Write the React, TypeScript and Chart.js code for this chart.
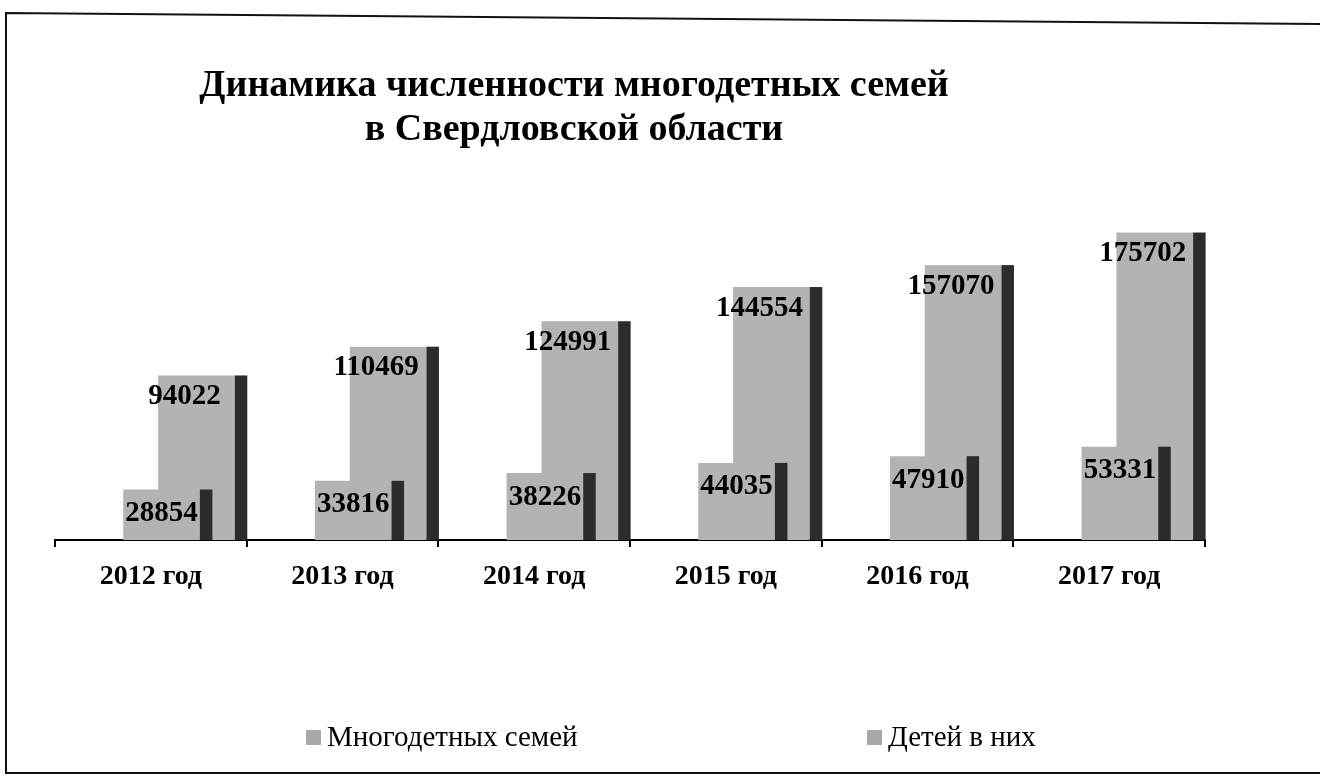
import { useEffect, useRef } from "react";
import { Chart, registerables } from "chart.js";

Chart.register(...registerables);

// ---------- data ----------
const years = ["2012 год", "2013 год", "2014 год", "2015 год", "2016 год", "2017 год"];
const families = [28854, 33816, 38226, 44035, 47910, 53331];
const children = [94022, 110469, 124991, 144554, 157070, 175702];
const seriesNames = ["Многодетных семей", "Детей в них"];
const titleLines = ["Динамика численности многодетных семей", "в Свердловской области"];

// ---------- style ----------
const SERIF = '"Liberation Serif", "Times New Roman", serif';
const FACE = "#b3b3b3";
const SIDE = "#2c2c2c";
const SIDE_W = 12.5;
// per dataset: shift of the face centre (fraction of category width) and label offsets (px)
const barStyle = [
  { shift: 0.056, labelDx: 0, labelDy: 24 },
  { shift: 0.238, labelDx: -12, labelDy: 21 },
];

const bar3dPlugin = {
  id: "bar3d",
  beforeDatasetDraw(chart: any, args: any) {
    const xs = chart.scales.x;
    const catW = xs.getPixelForValue(1) - xs.getPixelForValue(0);
    chart.ctx.save();
    chart.ctx.translate(barStyle[args.index].shift * catW, 0);
  },
  afterDatasetDraw(chart: any, args: any) {
    const ctx = chart.ctx;
    ctx.fillStyle = SIDE;
    args.meta.data.forEach((el: any) => {
      const { x, y, base, width } = el.getProps(["x", "y", "base", "width"], true);
      ctx.fillRect(x + width / 2, y, SIDE_W, base - y);
    });
    ctx.restore();
  },
  afterDatasetsDraw(chart: any) {
    const ctx = chart.ctx;
    const xs = chart.scales.x;
    const catW = xs.getPixelForValue(1) - xs.getPixelForValue(0);
    ctx.save();
    ctx.font = `bold 29px ${SERIF}`;
    ctx.fillStyle = "#000";
    ctx.textAlign = "center";
    ctx.textBaseline = "middle";
    chart.data.datasets.forEach((ds: any, di: number) => {
      const meta = chart.getDatasetMeta(di);
      const st = barStyle[di];
      meta.data.forEach((el: any, i: number) => {
        const { x, y } = el.getProps(["x", "y"], true);
        ctx.fillText(String(ds.data[i]), x + st.shift * catW + st.labelDx, y + st.labelDy);
      });
    });
    ctx.restore();
  },
};

const decorPlugin = {
  id: "decor",
  afterDraw(chart: any) {
    const ctx = chart.ctx;
    ctx.save();
    // frame
    ctx.strokeStyle = "#111";
    ctx.lineWidth = 2;
    ctx.beginPath();
    ctx.moveTo(1320, 24);
    ctx.lineTo(6, 13);
    ctx.lineTo(6, 773);
    ctx.lineTo(1320, 773);
    ctx.stroke();
    // title
    ctx.fillStyle = "#000";
    ctx.textAlign = "center";
    ctx.textBaseline = "alphabetic";
    ctx.font = `bold 38px ${SERIF}`;
    ctx.fillText(titleLines[0], 574, 96);
    ctx.fillText(titleLines[1], 574, 140);
    // legend
    const items = [
      { x: 306, label: seriesNames[0] },
      { x: 867, label: seriesNames[1] },
    ];
    ctx.font = `29px ${SERIF}`;
    ctx.textAlign = "left";
    ctx.textBaseline = "middle";
    items.forEach((it) => {
      ctx.fillStyle = "#a8a8a8";
      ctx.fillRect(it.x, 730, 15, 15);
      ctx.fillStyle = "#000";
      ctx.fillText(it.label, it.x + 21, 738);
    });
    ctx.restore();
  },
};

export default function App() {
  const ref = useRef<HTMLCanvasElement | null>(null);

  useEffect(() => {
    if (!ref.current) return;
    const chart = new Chart(ref.current, {
      type: "bar",
      data: {
        labels: years,
        datasets: [
          { label: seriesNames[0], data: families, backgroundColor: FACE, borderWidth: 0 },
          { label: seriesNames[1], data: children, backgroundColor: FACE, borderWidth: 0 },
        ],
      },
      options: {
        responsive: false,
        animation: false,
        layout: { padding: { left: 55, right: 115, top: 190, bottom: 177 } },
        datasets: { bar: { grouped: false, categoryPercentage: 1, barPercentage: 0.4, clip: false } as any },
        plugins: { legend: { display: false }, title: { display: false }, tooltip: { enabled: false } },
        scales: {
          x: {
            z: 1,
            offset: true,
            afterFit: (s: any) => { s.height = 60; },
            border: { display: true, color: "#000", width: 2 },
            grid: { display: true, offset: true, drawOnChartArea: false, drawTicks: true, tickLength: 7, color: "#000", lineWidth: 2 },
            ticks: { color: "#000", padding: 13, font: { family: SERIF, size: 28, weight: "bold" } },
          },
          y: { display: false, min: 0, max: 200000 },
        },
      },
      plugins: [bar3dPlugin, decorPlugin],
    });
    return () => chart.destroy();
  }, []);

  return (
    <div style={{ position: "absolute", left: 0, top: 0, width: 1320, height: 777, background: "#fff" }}>
      <canvas ref={ref} width={1320} height={777} />
    </div>
  );
}
